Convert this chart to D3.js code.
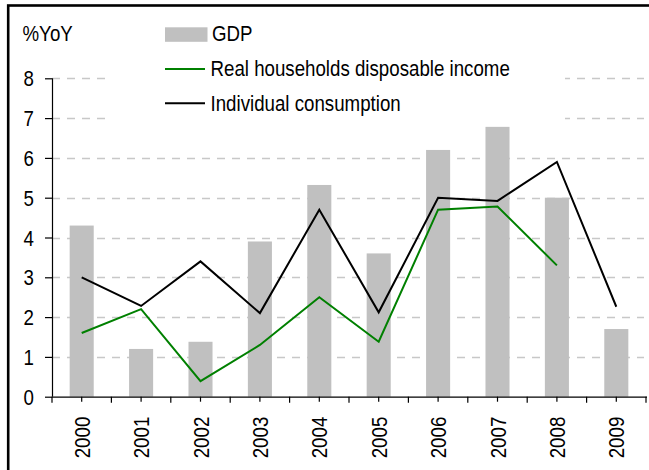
<!DOCTYPE html>
<html>
<head>
<meta charset="utf-8">
<script src="https://cdn.jsdelivr.net/npm/d3@7"></script>
<style>
  html, body { margin: 0; padding: 0; background: #fff; }
  svg { display: block; font-family: "Liberation Sans", Arial, sans-serif; }
</style>
</head>
<body>
<svg id="chart" width="649" height="470"></svg>
<script>
const years = ["2000","2001","2002","2003","2004","2005","2006","2007","2008","2009"];
const gdp = [4.3, 1.2, 1.38, 3.9, 5.32, 3.6, 6.2, 6.78, 5.0, 1.7];
const income = [1.6, 2.2, 0.39, 1.3, 2.5, 1.38, 4.7, 4.78, 3.3, null];
const consumption = [3.0, 2.28, 3.4, 2.1, 4.7, 2.12, 5.0, 4.92, 5.9, 2.26];
const yTicks = [0, 1, 2, 3, 4, 5, 6, 7, 8];
const legendLabels = ["GDP", "Real households disposable income", "Individual consumption"];
const yTitle = "%YoY";

(function () {
const svg = d3.select("#chart");
const mLeft = 52, mRight = 646, mTop = 78.3, mBottom = 396.7;
const FS = 22.4, SX = 0.835;   // condensed (narrow) look

const x = d3.scaleBand().domain(years).range([mLeft, mRight]).paddingInner(0).paddingOuter(0);
const y = d3.scaleLinear().domain([0, 8]).range([mBottom, mTop]);

// outer frame (right/bottom outside the picture)
svg.append("rect").attr("x", 8.2).attr("y", 5.5).attr("width", 700).attr("height", 520)
  .attr("fill", "none").attr("stroke", "#000").attr("stroke-width", 2.6);

// gridlines
svg.append("g").selectAll("line").data(yTicks.filter(d => d > 0)).join("line")
  .attr("x1", mLeft).attr("x2", 644)
  .attr("y1", d => Math.round(y(d)) + 0.5).attr("y2", d => Math.round(y(d)) + 0.5)
  .attr("stroke", "#c8c8c8").attr("stroke-width", 1.3).attr("stroke-dasharray", "8,7");

// bars
const bw = x.bandwidth() * 0.405;
svg.append("g").selectAll("rect").data(years).join("rect")
  .attr("x", (d) => x(d) + x.bandwidth() / 2 - bw / 2)
  .attr("width", bw)
  .attr("y", (d, i) => y(gdp[i]))
  .attr("height", (d, i) => y(0) - y(gdp[i]))
  .attr("fill", "#c0c0c0");

// lines
const line = d3.line()
  .defined(d => d.v !== null)
  .x(d => x(d.k) + x.bandwidth() / 2)
  .y(d => y(d.v));
svg.append("path").datum(years.map((k, i) => ({k, v: income[i]})))
  .attr("d", line).attr("fill", "none").attr("stroke", "#008000").attr("stroke-width", 2);
svg.append("path").datum(years.map((k, i) => ({k, v: consumption[i]})))
  .attr("d", line).attr("fill", "none").attr("stroke", "#000").attr("stroke-width", 2);

// legend background
svg.append("rect").attr("x", 108).attr("y", 14).attr("width", 457).attr("height", 106).attr("fill", "#fff");

// y axis (ticks via d3 axis, labels drawn condensed)
const yAxis = svg.append("g").attr("transform", `translate(${mLeft},0)`)
  .call(d3.axisLeft(y).tickValues(yTicks).tickSize(7).tickFormat(""));
yAxis.select(".domain").attr("stroke", "#000").attr("stroke-width", 1.2).attr("d", `M0.5,${mTop}V${mBottom}`);
yAxis.selectAll(".tick line").attr("stroke", "#000").attr("stroke-width", 1.2);
svg.append("g").selectAll("text").data(yTicks).join("text")
  .attr("transform", d => `translate(34,${y(d) + 8}) scale(${SX},1)`)
  .attr("text-anchor", "end").attr("font-size", FS + "px").attr("fill", "#000")
  .text(d => d3.format("d")(d));

// x axis
const xg = svg.append("g").attr("transform", `translate(0,${mBottom})`);
xg.append("line").attr("x1", mLeft).attr("x2", mRight + 1).attr("y1", 0.5).attr("y2", 0.5)
  .attr("stroke", "#000").attr("stroke-width", 1.2);
const bounds = years.map(d => x(d)).concat([x(years[years.length - 1]) + x.bandwidth()]);
xg.selectAll("line.b").data(bounds).join("line").attr("class", "b")
  .attr("x1", d => d).attr("x2", d => d).attr("y1", 0).attr("y2", 6)
  .attr("stroke", "#000").attr("stroke-width", 1.2);
xg.selectAll("line.c").data(years).join("line").attr("class", "c")
  .attr("x1", d => x(d) + x.bandwidth() / 2).attr("x2", d => x(d) + x.bandwidth() / 2)
  .attr("y1", 0).attr("y2", 5).attr("stroke", "#000").attr("stroke-width", 1.2);
xg.selectAll("text").data(years).join("text")
  .attr("transform", d => `translate(${x(d) + x.bandwidth() / 2 + 8},20) rotate(-90) scale(${SX},1)`)
  .attr("text-anchor", "end")
  .attr("font-size", FS + "px").attr("fill", "#000")
  .text(d => d);

// y title
svg.append("text").attr("transform", `translate(22.5,41) scale(${SX},1)`)
  .attr("font-size", FS + "px").text(yTitle);

// legend
const lg = svg.append("g");
const rowY = [34.5, 69, 103.3];
const baseY = [40.7, 76, 110.7];
lg.append("rect").attr("x", 165).attr("y", 27.3).attr("width", 42.5).attr("height", 14.5).attr("fill", "#c0c0c0");
lg.append("line").attr("x1", 165).attr("x2", 205).attr("y1", rowY[1]).attr("y2", rowY[1])
  .attr("stroke", "#008000").attr("stroke-width", 2);
lg.append("line").attr("x1", 165).attr("x2", 205).attr("y1", rowY[2]).attr("y2", rowY[2])
  .attr("stroke", "#000").attr("stroke-width", 2);
lg.selectAll("text").data(legendLabels).join("text")
  .attr("transform", (d, i) => `translate(${i === 0 ? 212 : 210.5},${baseY[i]}) scale(${SX},1)`)
  .attr("font-size", FS + "px").attr("fill", "#000")
  .text(d => d);
})();
</script>
</body>
</html>
